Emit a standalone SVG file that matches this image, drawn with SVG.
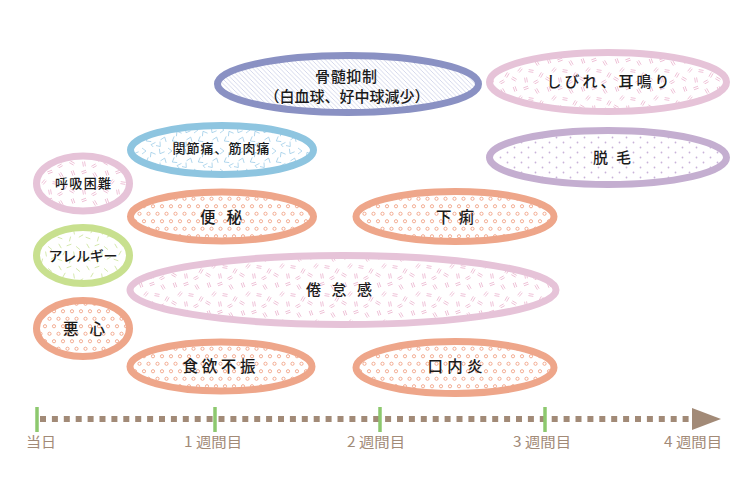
<svg xmlns="http://www.w3.org/2000/svg" width="740" height="500" viewBox="0 0 740 500">
<style>
.node ellipse{stroke-width:7}
.lbl{font-family:"Noto Sans CJK JP","Noto Sans",sans-serif;fill:#1a1a1a;text-anchor:middle;font-weight:500}
.tl{font-family:"Noto Sans CJK JP","Noto Sans",sans-serif;fill:#a28a77;font-size:14px;text-anchor:middle}
.salmon{stroke:#eea68a}
.pink{stroke:#e6c3d8}
</style>
<defs>
<pattern id="rings" patternUnits="userSpaceOnUse" width="18" height="15">
<g fill="none" stroke="#f0a387" stroke-width="0.9">
<circle cx="4.5" cy="3.75" r="1.6"/><circle cx="13.5" cy="3.75" r="1.6"/>
<circle cx="0" cy="11.25" r="1.6"/><circle cx="9" cy="11.25" r="1.6"/><circle cx="18" cy="11.25" r="1.6"/>
</g>
</pattern>
<pattern id="pinkdash" patternUnits="userSpaceOnUse" width="34" height="28">
<g fill="none" stroke="#ecb8d1" stroke-width="0.8">
<path d="M-2.5,-1h5M-2.5,1h5" transform="translate(5,5) rotate(70)"/>
<path d="M-2.5,-1h5M-2.5,1h5" transform="translate(16,4) rotate(-20)"/>
<path d="M-2.5,-1h5M-2.5,1h5" transform="translate(27,7) rotate(60)"/>
<path d="M-2.5,-1h5M-2.5,1h5" transform="translate(10,14) rotate(-50)"/>
<path d="M-2.5,-1h5M-2.5,1h5" transform="translate(21,15) rotate(10)"/>
<path d="M-2.5,-1h5M-2.5,1h5" transform="translate(31,19) rotate(-60)"/>
<path d="M-2.5,-1h5M-2.5,1h5" transform="translate(4,23) rotate(30)"/>
<path d="M-2.5,-1h5M-2.5,1h5" transform="translate(16,24) rotate(80)"/>
<path d="M-2.5,-1h5M-2.5,1h5" transform="translate(26,26) rotate(-30)"/>
</g>
</pattern>
<pattern id="greendash" patternUnits="userSpaceOnUse" width="28" height="22">
<g fill="none" stroke="#cfe5a1" stroke-width="0.8">
<path d="M-2.5,0h5" transform="translate(4,4) rotate(60)"/>
<path d="M-2.5,0h5" transform="translate(13,3) rotate(-20)"/>
<path d="M-2.5,0h5" transform="translate(22,6) rotate(40)"/>
<path d="M-2.5,0h5" transform="translate(8,11) rotate(-60)"/>
<path d="M-2.5,0h5" transform="translate(18,12) rotate(80)"/>
<path d="M-2.5,0h5" transform="translate(25,16) rotate(-30)"/>
<path d="M-2.5,0h5" transform="translate(4,18) rotate(20)"/>
<path d="M-2.5,0h5" transform="translate(14,19) rotate(-75)"/>
</g>
</pattern>
<pattern id="bluev" patternUnits="userSpaceOnUse" width="26" height="21">
<g fill="none" stroke="#a6d1ea" stroke-width="0.8">
<path d="M-3,-2L0,2L3,-2" transform="translate(5,5) rotate(30)"/>
<path d="M-3,-2L0,2L3,-2" transform="translate(14,4) rotate(-90)"/>
<path d="M-3,-2L0,2L3,-2" transform="translate(22,7) rotate(150)"/>
<path d="M-3,-2L0,2L3,-2" transform="translate(8,13) rotate(200)"/>
<path d="M-3,-2L0,2L3,-2" transform="translate(18,14) rotate(60)"/>
<path d="M-3,-2L0,2L3,-2" transform="translate(3,19) rotate(-40)"/>
<path d="M-3,-2L0,2L3,-2" transform="translate(23,19) rotate(100)"/>
</g>
</pattern>
<pattern id="hatch" patternUnits="userSpaceOnUse" width="4.5" height="4.5">
<path d="M-1,-1L5.5,5.5M-1,3.5L1,5.5M3.5,-1L5.5,1" stroke="#c3c7e4" stroke-width="0.7"/>
</pattern>
<pattern id="dots" patternUnits="userSpaceOnUse" width="14" height="10">
<g fill="#c9b2d9"><circle cx="3.5" cy="2.5" r="0.9"/><circle cx="10.5" cy="7.5" r="0.9"/></g>
</pattern>
</defs>

<g id="connectors">
<line x1="40" y1="419" x2="694" y2="419" stroke="#a28a77" stroke-width="6" stroke-dasharray="6 5.9"/>
<polygon points="692,408 721,419 692,430" fill="#a28a77"/>
<g stroke="#8dc86e" stroke-width="3.5">
<line x1="37" y1="407" x2="37" y2="432"/>
<line x1="215" y1="407" x2="215" y2="432"/>
<line x1="380" y1="407" x2="380" y2="432"/>
<line x1="545" y1="407" x2="545" y2="432"/>
</g>
<text class="tl" x="41" y="447" textLength="30" lengthAdjust="spacingAndGlyphs">当日</text>
<text class="tl" x="213" y="447" textLength="58" lengthAdjust="spacingAndGlyphs">1 週間目</text>
<text class="tl" x="376" y="447" textLength="58" lengthAdjust="spacingAndGlyphs">2 週間目</text>
<text class="tl" x="542" y="447" textLength="58" lengthAdjust="spacingAndGlyphs">3 週間目</text>
<text class="tl" x="693" y="447" textLength="58" lengthAdjust="spacingAndGlyphs">4 週間目</text>
</g>

<g id="kotsuzui" class="node">
<ellipse cx="348" cy="84" rx="130.5" ry="28.5" fill="url(#hatch)" stroke="#8a91c3"/>
<text class="lbl" x="346" y="82" font-size="15" textLength="62" lengthAdjust="spacing">骨髄抑制</text>
<text class="lbl" x="347" y="102" font-size="15" textLength="165" lengthAdjust="spacing">（白血球、好中球減少）</text>
</g>
<g id="shibire" class="node">
<ellipse cx="608" cy="82" rx="118.5" ry="29.5" fill="url(#pinkdash)" class="pink"/>
<text class="lbl" x="608" y="87" font-size="15" textLength="123" lengthAdjust="spacing">しびれ、耳鳴り</text>
</g>
<g id="datsumo" class="node">
<ellipse cx="608" cy="157.5" rx="118.5" ry="27" fill="url(#dots)" stroke="#c4aed0"/>
<text class="lbl" x="612" y="163" font-size="15" textLength="38" lengthAdjust="spacing">脱毛</text>
</g>
<g id="kansetsu" class="node">
<ellipse cx="222" cy="150" rx="91.5" ry="24.5" fill="url(#bluev)" stroke="#8ec5e0"/>
<text class="lbl" x="221" y="153" font-size="13" textLength="97" lengthAdjust="spacing">関節痛、筋肉痛</text>
</g>
<g id="kokyu" class="node">
<ellipse cx="83" cy="183.5" rx="46.5" ry="27.5" fill="url(#pinkdash)" class="pink"/>
<text class="lbl" x="83" y="187.5" font-size="13" textLength="56" lengthAdjust="spacing">呼吸困難</text>
</g>
<g id="benpi" class="node">
<ellipse cx="222" cy="216.5" rx="91.5" ry="24.5" fill="url(#rings)" class="salmon"/>
<text class="lbl" x="221" y="223" font-size="15.5" textLength="42" lengthAdjust="spacing">便秘</text>
</g>
<g id="geri" class="node">
<ellipse cx="455" cy="216.5" rx="99" ry="25" fill="url(#rings)" class="salmon"/>
<text class="lbl" x="455" y="223" font-size="15.5" textLength="38" lengthAdjust="spacing">下痢</text>
</g>
<g id="allergy" class="node">
<ellipse cx="83" cy="255.5" rx="46.5" ry="28" fill="url(#greendash)" stroke="#c8e08f"/>
<text class="lbl" x="83" y="260.5" font-size="14" textLength="69" lengthAdjust="spacing">アレルギー</text>
</g>
<g id="kentai" class="node">
<ellipse cx="343" cy="290" rx="213" ry="34.5" fill="url(#pinkdash)" class="pink"/>
<text class="lbl" x="339" y="295" font-size="15" textLength="66" lengthAdjust="spacing">倦怠感</text>
</g>
<g id="oshin" class="node">
<ellipse cx="83" cy="328.5" rx="46.5" ry="28" fill="url(#rings)" class="salmon"/>
<text class="lbl" x="84" y="335" font-size="15.5" textLength="42" lengthAdjust="spacing">悪心</text>
</g>
<g id="shokuyoku" class="node">
<ellipse cx="221" cy="366.5" rx="91" ry="24.5" fill="url(#rings)" class="salmon"/>
<text class="lbl" x="219" y="372" font-size="15.5" textLength="73" lengthAdjust="spacing">食欲不振</text>
</g>
<g id="konaien" class="node">
<ellipse cx="455" cy="367.5" rx="99" ry="26" fill="url(#rings)" class="salmon"/>
<text class="lbl" x="455" y="372" font-size="15.5" textLength="55" lengthAdjust="spacing">口内炎</text>
</g>
</svg>
